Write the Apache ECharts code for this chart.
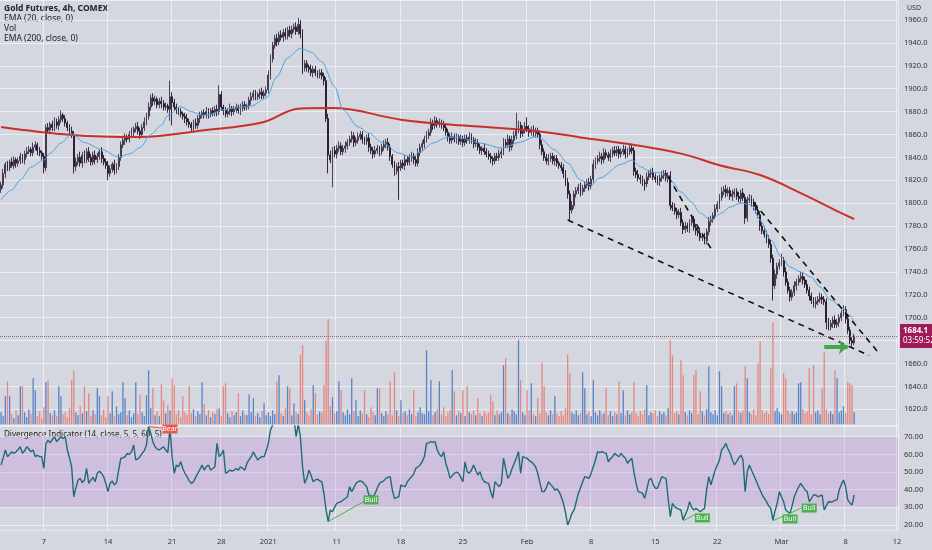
<!DOCTYPE html>
<html><head><meta charset="utf-8">
<script src="https://cdn.jsdelivr.net/npm/echarts@6/dist/echarts.min.js"></script>
<style>html,body{margin:0;padding:0;background:#d4d7df}#c{width:932px;height:550px}</style>
</head><body><div id="c"></div>
<script>
// ---- data ----
const closes = [
1816,1826,1834,1831,1836,1833,1838,1835,1837,1841,
1838,1843,1845,1847,1844,1849,1851,1846,1844,1841,
1831,1866,1864,1869,1866,1871,1868,1873,1877,1874,
1870,1866,1863,1860,1832,1836,1840,1835,1842,1838,
1845,1840,1836,1842,1838,1841,1845,1839,1836,1833,
1826,1830,1834,1829,1832,1840,1851,1855,1858,1856,
1860,1862,1865,1867,1863,1860,1866,1871,1876,1884,
1892,1889,1891,1886,1889,1887,1884,1885,1882,1893,
1888,1884,1882,1880,1878,1876,1874,1871,1869,1866,
1870,1868,1874,1877,1879,1877,1880,1878,1881,1879,
1882,1880,1895,1884,1881,1878,1880,1883,1880,1882,
1884,1881,1883,1886,1884,1885,1890,1893,1896,1893,
1895,1897,1894,1896,1899,1912,1926,1938,1944,1941,
1947,1945,1949,1946,1951,1948,1952,1954,1950,1956,
1948,1918,1922,1919,1917,1914,1917,1914,1912,1914,
1911,1907,1874,1842,1838,1846,1843,1848,1850,1845,
1848,1850,1853,1856,1859,1853,1855,1858,1860,1856,
1854,1857,1849,1846,1843,1846,1848,1845,1849,1851,
1853,1849,1841,1834,1828,1832,1831,1835,1833,1838,
1836,1840,1841,1838,1835,1844,1849,1852,1856,1859,
1862,1870,1868,1872,1869,1871,1869,1866,1862,1858,
1855,1858,1856,1858,1854,1856,1853,1857,1855,1858,
1855,1852,1853,1849,1846,1848,1845,1843,1841,1839,
1837,1841,1840,1843,1845,1853,1851,1856,1849,1855,
1859,1864,1868,1861,1864,1867,1865,1862,1864,1861,
1863,1860,1851,1845,1840,1837,1839,1841,1837,1839,
1835,1833,1831,1826,1818,1808,1794,1798,1808,1811,
1814,1810,1813,1816,1818,1815,1821,1834,1837,1839,
1841,1838,1844,1842,1840,1843,1846,1844,1847,1843,
1845,1847,1843,1845,1848,1846,1828,1825,1822,1821,
1818,1817,1823,1826,1827,1823,1821,1819,1822,1824,
1826,1822,1824,1798,1796,1793,1790,1792,1783,1777,
1780,1778,1783,1786,1779,1776,1774,1770,1771,1767,
1775,1784,1786,1789,1795,1799,1805,1810,1812,1809,
1811,1806,1808,1810,1806,1804,1809,1805,1787,1803,
1804,1801,1797,1794,1790,1780,1776,1773,1769,1764,
1752,1728,1738,1745,1748,1750,1740,1731,1724,1718,
1722,1728,1731,1734,1736,1733,1729,1724,1719,1715,
1712,1714,1716,1718,1716,1714,1696,1692,1695,1698,
1694,1696,1700,1704,1707,1699,1689,1680,1678,1684.1];

const opens = [
1812,1816,1826,1834,1831,1836,1833,1838,1835,1837,
1841,1838,1843,1845,1847,1844,1849,1851,1846,1844,
1841,1831,1866,1864,1869,1866,1871,1868,1873,1877,
1874,1870,1866,1863,1860,1832,1836,1840,1835,1842,
1838,1845,1840,1836,1842,1838,1841,1845,1839,1836,
1833,1826,1830,1834,1829,1832,1840,1851,1855,1858,
1856,1860,1862,1865,1867,1863,1860,1866,1871,1876,
1884,1892,1889,1891,1886,1889,1887,1884,1885,1882,
1893,1888,1884,1882,1880,1878,1876,1874,1871,1869,
1866,1870,1868,1874,1877,1879,1877,1880,1878,1881,
1879,1882,1880,1895,1884,1881,1878,1880,1883,1880,
1882,1884,1881,1883,1886,1884,1885,1890,1893,1896,
1893,1895,1897,1894,1896,1899,1912,1926,1938,1944,
1941,1947,1945,1949,1946,1951,1948,1952,1954,1950,
1956,1948,1918,1922,1919,1917,1914,1917,1914,1912,
1914,1911,1907,1874,1842,1838,1846,1843,1848,1850,
1845,1848,1850,1853,1856,1859,1853,1855,1858,1860,
1856,1854,1857,1849,1846,1843,1846,1848,1845,1849,
1851,1853,1849,1841,1834,1828,1832,1831,1835,1833,
1838,1836,1840,1841,1838,1835,1844,1849,1852,1856,
1859,1862,1870,1868,1872,1869,1871,1869,1866,1862,
1858,1855,1858,1856,1858,1854,1856,1853,1857,1855,
1858,1855,1852,1853,1849,1846,1848,1845,1843,1841,
1839,1837,1841,1840,1843,1845,1853,1851,1856,1849,
1855,1859,1864,1868,1861,1864,1867,1865,1862,1864,
1861,1863,1860,1851,1845,1840,1837,1839,1841,1837,
1839,1835,1833,1831,1826,1818,1808,1794,1798,1808,
1811,1814,1810,1813,1816,1818,1815,1821,1834,1837,
1839,1841,1838,1844,1842,1840,1843,1846,1844,1847,
1843,1845,1847,1843,1845,1848,1846,1828,1825,1822,
1821,1818,1817,1823,1826,1827,1823,1821,1819,1822,
1824,1826,1822,1824,1798,1796,1793,1790,1792,1783,
1777,1780,1778,1783,1786,1779,1776,1774,1770,1771,
1767,1775,1784,1786,1789,1795,1799,1805,1810,1812,
1809,1811,1806,1808,1810,1806,1804,1809,1805,1787,
1803,1804,1801,1797,1794,1790,1780,1776,1773,1769,
1764,1752,1728,1738,1745,1748,1750,1740,1731,1724,
1718,1722,1728,1731,1734,1736,1733,1729,1724,1719,
1715,1712,1714,1716,1718,1716,1714,1696,1692,1695,
1698,1694,1696,1700,1704,1707,1699,1689,1680,1678];

const upperWick = [
3,4,2,3,2,4,3,2,3,3, 2,3,4,3,2,4,3,2,3,2, 3,3,4,2,3,4,3,3,4,2, 3,2,3,4,3,4,3,5,3,4,
3,4,3,3,4,3,2,4,3,3, 4,3,2,4,3,3,3,4,3,2, 3,4,2,3,4,3,3,4,3,4, 3,4,3,2,3,4,3,3,2,14,
4,3,3,2,3,2,3,4,3,2, 3,4,3,3,2,3,4,3,2,3, 3,4,8,3,2,3,3,4,2,3, 3,2,4,3,3,2,3,4,3,3,
2,3,4,3,3,4,4,3,3,4, 3,4,3,4,3,4,3,3,4,6, 4,4,3,3,2,4,3,3,2,3, 3,3,3,4,4,3,4,3,4,3,
3,4,3,3,4,3,3,4,3,3, 2,3,4,3,3,4,3,2,3,4, 3,4,3,2,3,3,4,3,3,4, 3,3,4,3,3,4,3,3,3,4,
3,4,3,4,3,3,2,3,4,3, 3,4,3,3,2,4,3,3,3,4, 3,3,4,3,3,2,4,3,3,3, 2,3,3,4,3,4,3,4,3,4,
4,15,4,3,4,4,8,3,3,4, 3,3,3,4,3,3,4,3,3,3, 3,2,3,3,3,4,3,4,3,3, 3,4,3,3,3,4,3,4,3,3,
4,3,4,3,3,4,3,4,3,3, 3,4,3,3,4,3,3,3,4,3, 3,3,4,3,3,4,3,3,3,4, 3,3,3,4,3,4,3,3,4,3,
4,3,3,4,3,3,3,4,3,3, 3,4,3,3,4,3,3,4,3,4, 3,3,4,3,3,4,3,4,3,3, 4,3,3,4,3,3,3,4,3,3,
4,3,4,3,3,6,3,4,3,3, 3,4,3,3,4,3,3,4,3,3, 3,4,3,4,3,3,3,4,3,3, 4,3,3,3,4,3,4,3,3,2];

const lowerWick = [
3,3,4,3,3,2,3,4,3,3, 3,4,3,2,3,3,3,4,3,3, 5,3,3,4,3,3,3,4,3,3, 3,3,4,3,6,4,3,3,4,3,
3,4,3,3,4,3,3,4,3,3, 6,3,3,4,3,3,3,3,4,3, 3,3,4,3,3,4,3,3,3,3, 3,4,3,3,3,4,3,3,3,10,
20,3,4,3,3,3,4,3,3,4, 3,3,3,4,3,3,3,4,3,3, 3,4,3,3,4,3,3,3,4,3, 3,3,4,3,3,3,3,4,3,3,
3,4,3,3,3,3,4,3,3,4, 3,3,4,3,3,3,4,3,3,3, 4,5,3,4,3,3,4,3,3,3, 3,4,3,16,3,24,3,4,3,3,
3,4,3,3,3,4,3,3,3,4, 3,3,4,3,4,3,3,4,3,3, 3,3,4,3,4,3,28,3,3,4, 3,3,4,4,3,3,3,3,4,3,
3,3,4,3,3,3,4,3,3,4, 3,3,3,4,3,3,4,3,3,3, 3,4,3,3,3,4,3,3,3,4, 4,3,3,3,4,3,3,3,4,3,
3,3,3,4,3,3,3,4,3,3, 3,3,4,3,3,3,4,3,3,4, 3,3,3,4,3,4,9,3,3,3, 3,4,3,3,3,4,3,3,4,3,
3,4,3,3,3,4,3,3,3,4, 3,3,4,3,3,3,4,3,3,4, 3,6,3,3,4,3,3,3,4,3, 3,3,4,4,3,3,4,3,3,4,
3,3,4,3,3,4,3,3,3,3, 3,3,4,3,3,3,4,3,3,4, 3,3,4,3,3,3,4,3,5,3, 3,4,3,3,3,4,3,3,4,3,
4,13,3,4,3,3,4,3,3,4, 3,3,4,3,3,4,3,3,4,3, 3,4,3,3,4,3,6,3,3,4, 3,3,4,3,3,4,3,3,3,2];

const volumes = [
12,8,28,43,28,10,6,14,9,38, 38,12,7,15,10,46,34,8,13,6, 17,42,44,11,9,14,8,38,28,10, 12,7,16,44,53,12,9,18,11,38,
13,31,8,14,10,36,28,9,15,7, 28,11,33,8,18,10,12,42,26,9, 14,7,11,42,10,29,12,8,29,54, 16,36,9,13,8,40,24,11,19,14,
46,39,10,14,7,28,12,9,38,11, 15,8,13,10,42,20,9,14,7,12, 10,15,16,8,38,41,11,7,13,9, 12,31,8,14,10,9,30,12,26,8,
11,7,13,21,9,12,8,14,10,43, 49,11,8,16,38,36,9,21,12,10, 69,79,24,12,9,15,39,31,10,13, 12,39,84,105,18,27,11,13,43,34,
12,9,15,10,46,13,24,8,14,11, 34,10,7,17,12,9,36,36,11,8, 13,10,43,9,52,14,8,24,11,13, 9,15,10,34,8,12,17,11,10,74,
13,44,9,12,15,43,10,17,8,12, 14,54,33,9,13,11,34,8,38,12, 10,14,9,26,11,8,13,10,12,29, 23,9,14,10,12,59,66,11,9,15,
13,10,84,44,12,9,34,14,41,10, 8,26,11,62,38,12,9,14,10,28, 11,8,13,9,16,70,51,12,10,14, 9,11,52,36,10,13,8,44,12,9,
14,10,11,36,9,13,8,12,10,43, 11,34,9,14,10,12,42,11,8,13, 10,15,39,9,12,11,14,8,13,10, 12,9,16,84,69,11,13,10,64,49,
12,9,14,11,49,54,10,33,13,9, 15,58,12,10,14,9,53,38,11,13, 10,12,9,38,41,13,11,14,58,46, 12,10,15,9,61,83,14,11,13,10,
56,102,13,16,12,10,51,46,14,11, 13,10,12,41,42,15,11,13,56,10, 59,12,14,10,36,72,15,11,13,10, 54,46,12,14,18,11,42,41,39,12];

const rsiValues = [
54,58,62.5,58.7,60,61.5,60.5,61.5,62.8,64.3, 60.6,62,64.3,63,61.5,62.5,58.7,59.5,58.7,58.7,
52.1,66,68.1,66.5,68.5,70,67.2,68.5,70,69, 70,62.5,58,53,36,41,45.5,46.4,44,45.5,
52.1,43.6,45.5,47,44.5,49.3,50.5,49.3,47.3,43.5, 38.9,43.6,45,42.7,44,51.1,57.8,58,58.7,60.6,
60,61.5,65.3,56.8,57.5,58.7,60.6,62,65.3,75.7, 72,67.2,64.3,63,62.5,63.5,64.3,62.5,61,75,
58.7,49.3,54,53,55.8,52,49.3,47.3,45,43.6, 44.5,47,49.3,51.5,54,51.1,53,54,51.1,52,
53,66.2,58.7,60,62.5,49.3,50,51.1,50.5,51.1, 52,51.1,53,52,51.1,55,57,58.7,61.5,59,
56.8,58,58.7,58.7,62,66.2,73.8,76.5,79,81, 80,82,80.5,81.5,80,83,81,80,70,77,
70,53,43.6,46.4,51.1,48,44.5,45.5,46,45, 44.5,38,28.5,21.9,28.5,27.5,30,32.3,32.8,33.2,
34.2,35,36,41.7,38.9,41,43.6,44.5,45,44.5, 43,41.7,37,36.5,36,38,41,43.6,44.5,45,
46.4,47,47.3,39.8,35.1,35.5,36,42.7,42,41.7, 44.5,46,47.3,49,52.1,53,54,56,58.7,66.2,
66.5,67.2,66.8,67.2,62.5,60,58.7,61.5,55,51.1, 46.4,48,49.3,50,49.3,47,44.5,55.8,50.2,49.3,
51,54,51,48.3,50.2,46.4,44.5,44,43.6,39, 35.1,44.5,43,41.7,43.6,57.8,52,46.4,48.3,52,
55,58,61.5,49.3,58.7,58.2,57.8,56.5,55.8,54.5, 53,49.3,44,38.9,38.9,41,44.5,43,41.7,39.8,
40.5,38.9,36,32.3,27,20,23,26.6,28.5,33, 38,41,44.5,47.3,47,46.4,49.3,53,56.8,61.5,
61,61.5,61,60.6,55.8,57.5,58.7,60.6,59.5,58.7, 60.6,59,57.8,55,56.5,57.8,50,43.6,38.9,38.5,
38,35.1,40,45.5,46.4,43,40.8,40.8,44,47.3, 46.8,46.4,35,24.7,32.3,30.4,29.5,29,28.5,22.8,
26,28.5,33.2,30,28.5,29.4,28.5,27.5,28.5,29.4, 40,47.3,42.7,47,51.1,54,56.8,62.5,64,66.2,
63,60.6,57,54,55.8,58,59.6,56.8,38.9,50, 54,51,48.3,45.5,42.5,39.8,37,35.1,33.2,31,
29.4,22.8,28,32.3,38.9,36,33.2,28.5,27.5,26.6, 31,36,39,41.5,43.6,41.7,40,38.9,33.2,35,
37,37,36,36.5,37,28.5,31,33.2,33,33.2, 34,34.2,39.8,43,45.5,41.7,34.2,32.5,31.3,37];

const ema20Bars = [0,5,9,14,20,23,28,33,39,47,55,60,65,70,75,78,84,89,94,98,103,109,117,124,129,134,140,145,150,156,160,167,172,178,186,192,196,202,209,215,224,234,243,249,252,259,265,271,276,280,290,295,299,304,309,313,318,323,327,332,337,341,346,351,355,360,365,369,374,379,383,388,393,397,399];
const ema20Vals = [1802.8,1811.5,1820.3,1831.6,1837.7,1843.8,1852.6,1860.5,1853,1847,1840.3,1843,1848.6,1860,1868,1876.6,1884.4,1880,1877,1877.5,1881.4,1883.1,1885,1891.6,1910.5,1927,1935.3,1932,1923.6,1902,1881.4,1866.6,1861.3,1853.4,1843.8,1840.3,1844.7,1852.6,1857.8,1857,1852.6,1848.2,1853.4,1857.8,1857,1846.5,1835.2,1820.3,1815.9,1822,1834,1837.7,1832,1827.2,1826.4,1820.3,1809.8,1801,1791.4,1785.3,1791.4,1796.7,1800.2,1798.4,1785.3,1767.9,1753,1744.3,1740,1735.5,1726.8,1715.5,1709.3,1702.3,1696.2];
const ema200Bars = [0,33,65,94,122,140,155,187,215,248,271,295,318,337,355,374,393,399];
const ema200Vals = [1866.5,1859.6,1857.8,1863.5,1870.5,1882.8,1883.2,1873,1868,1863.6,1857.5,1851.2,1843.3,1832.8,1824.6,1808.9,1791.4,1786.2];

const tickLabels = {'2020-12-07':'7','2020-12-14':'14','2020-12-21':'21','2020-12-28':'28','2021-01-03':'2021','2021-01-11':'11','2021-01-18':'18','2021-01-25':'25','2021-02-01':'Feb','2021-02-08':'8','2021-02-15':'15','2021-02-22':'22','2021-03-01':'Mar','2021-03-08':'8','2021-03-12':'12'};
const holidays = ['2020-12-25','2021-01-01'];
const shortSessions = ['2020-12-24','2021-01-18','2021-02-15'];

// trend lines drawn on the price pane: [bar, price, bar, price]
const trendLines = [[265,1785.3,406,1667.1],[352,1800.6,411,1668.1],[312,1822.9,333,1757.4]];
const arrowLine = [385,1674.4,396,1674.4];
const lastPrice = 1684.1, countdown = '03:59:52';

// divergence annotations on the RSI pane
const divKinds  = ['Bear','Bull','Bull','Bull','Bull'];
const divFrom   = [[69,75.7],[153,21.9],[319,22.4],[361,22.4],[369,26.6]];
const divTo     = [[79,74.5],[171,34.2],[325,26.2],[369,26.6],[377,31.3]];
const divLabel  = [[79,74.4],[173,34.2],[328,24],[369,23.4],[378,29.6]];

// ---- categories (4h bars of COMEX sessions) ----
const cats = [], catDay = [];
const fmt = t => new Date(t).toISOString().slice(0,10);
const hours = ['18','22','02','06','10','14'];
for (let t = Date.UTC(2020,11,2); t <= Date.UTC(2021,2,12); t += 86400000) {
  const wd = new Date(t).getUTCDay();
  if (wd === 0 || wd === 6) continue;
  const s = fmt(t);
  if (holidays.includes(s)) continue;
  const prev = fmt(t - 86400000);
  const n = shortSessions.includes(s) ? 5 : 6;
  for (let b = 0; b < n; b++) {
    const day = b < 2 ? prev : s;
    cats.push(day + ' ' + hours[b] + ':00');
    catDay.push(day);
  }
}
const N = 420;
cats.length = N; catDay.length = N;
const labelAt = {};
Object.keys(tickLabels).forEach(k => { const i = catDay.indexOf(k); if (i >= 0) labelAt[i] = tickLabels[k]; });
const isTick = (i) => labelAt[i] !== undefined;

const candleData = closes.map((c, i) => {
  const o = opens[i];
  return [o, c, Math.min(o, c) - lowerWick[i], Math.max(o, c) + upperWick[i]];
});
const volData = volumes.map((v, i) => ({
  value: v,
  itemStyle: { color: closes[i] >= opens[i] ? '#5a82c6' : '#e3877f' }
}));

const FONT = '"Noto Sans", "DejaVu Sans", sans-serif';
const gridL = 0, gridR = 34;

const chart = echarts.init(document.getElementById('c'), null, {renderer: 'canvas'});
chart.setOption({
  backgroundColor: '#d4d7df',
  animation: false,
  textStyle: { fontFamily: FONT },
  grid: [
    { left: gridL, right: gridR, top: 0, height: 425 },
    { left: gridL, right: gridR, top: 315.3, height: 109 },
    { left: gridL, right: gridR, top: 426, height: 104 }
  ],
  xAxis: [
    { type: 'category', gridIndex: 0, data: cats, boundaryGap: true,
      axisLine: { show: false }, axisTick: { show: false, alignWithLabel: true }, axisLabel: { show: false },
      splitLine: { show: true, interval: (i) => isTick(i), lineStyle: { color: 'rgba(255,255,255,0.55)', width: 1 } } },
    { type: 'category', gridIndex: 1, data: cats, boundaryGap: true, show: false },
    { type: 'category', gridIndex: 2, data: cats, boundaryGap: true,
      axisLine: { show: true, lineStyle: { color: '#e6e8ed' } },
      axisTick: { show: false, alignWithLabel: true },
      axisLabel: { show: true, interval: (i) => isTick(i), formatter: (v, i) => labelAt[i] || '',
        color: '#333', fontSize: 7.5, margin: 8, fontFamily: FONT },
      splitLine: { show: true, interval: (i) => isTick(i), lineStyle: { color: 'rgba(255,255,255,0.55)', width: 1 } } }
  ],
  yAxis: [
    { type: 'value', gridIndex: 0, position: 'right', min: 1606.3, max: 1977.5, splitNumber: 18, scale: true,
      axisLine: { show: true, lineStyle: { color: '#eceef2' } }, axisTick: { show: false },
      axisLabel: { formatter: v => v.toFixed(1), color: '#333', fontSize: 7.5, margin: 6, showMinLabel: false, showMaxLabel: false, fontFamily: FONT },
      splitLine: { show: true, lineStyle: { color: 'rgba(255,255,255,0.55)', width: 1 } } },
    { type: 'value', gridIndex: 1, min: 0, max: 109, show: false, splitLine: { show: false } },
    { type: 'value', gridIndex: 2, position: 'right', min: 17.17, max: 76.06, splitNumber: 6, scale: true,
      axisLine: { show: true, lineStyle: { color: '#eceef2' } }, axisTick: { show: false },
      axisLabel: { formatter: v => v.toFixed(2), color: '#333', fontSize: 7.5, margin: 6, showMinLabel: false, showMaxLabel: false, fontFamily: FONT },
      splitLine: { show: true, lineStyle: { color: 'rgba(255,255,255,0.55)', width: 1 } } }
  ],
  series: [
    { name: 'Vol', type: 'bar', xAxisIndex: 1, yAxisIndex: 1, data: volData, barWidth: 1.3, silent: true },
    { name: 'Gold Futures', type: 'candlestick', xAxisIndex: 0, yAxisIndex: 0, data: candleData, barWidth: 1.4,
      itemStyle: { color: '#3f3249', color0: '#24162b', borderColor: '#3f3249', borderColor0: '#24162b', borderWidth: 0.9 },
      markLine: { silent: true, symbol: 'none', animation: false,
        data: [{ yAxis: lastPrice,
          lineStyle: { color: '#8a6a80', type: 'dotted', width: 1 },
          label: { show: true, position: 'end', distance: 2, formatter: '{a|' + lastPrice.toFixed(1) + '}\n{b|' + countdown + '}',
            backgroundColor: '#a01a5a', padding: [2, 3, 2, 3],
            rich: { a: { color: '#fff', fontSize: 8, fontWeight: 'bold', lineHeight: 10, fontFamily: FONT },
                    b: { color: '#fff', fontSize: 8, lineHeight: 10, fontFamily: FONT } } } }] } },
    { name: 'EMA200', type: 'line', xAxisIndex: 0, yAxisIndex: 0, data: ema200Bars.map((b, i) => [b, ema200Vals[i]]),
      smooth: 0.4, showSymbol: false, lineStyle: { color: '#c8302c', width: 2 }, silent: true },
    { name: 'EMA20', type: 'line', xAxisIndex: 0, yAxisIndex: 0, data: ema20Bars.map((b, i) => [b, ema20Vals[i]]),
      smooth: 0.3, smoothMonotone: 'x', showSymbol: false, lineStyle: { color: '#4da3e0', width: 1 }, silent: true,
      markLine: { silent: true, symbol: 'none', animation: false,
        data: trendLines.map(t => [
          { coord: [t[0], t[1]], lineStyle: { color: '#111', type: [6, 5], width: 1.6 } },
          { coord: [t[2], t[3]] }
        ]).concat([[
          { coord: [arrowLine[0], arrowLine[1]], symbol: 'none', lineStyle: { color: '#43a648', type: 'solid', width: 4 } },
          { coord: [arrowLine[2], arrowLine[3]], symbol: 'arrow', symbolSize: [11, 9] }
        ]]),
        label: { show: false } } },
    { name: 'RSI', type: 'line', xAxisIndex: 2, yAxisIndex: 2, data: rsiValues, showSymbol: false,
      lineStyle: { color: '#1d6c72', width: 1.4 }, silent: true,
      markArea: { silent: true, itemStyle: { color: 'rgba(190,120,225,0.25)' }, data: [[{ yAxis: 30 }, { yAxis: 70 }]] },
      markLine: { silent: true, symbol: 'none', animation: false, label: { show: false },
        data: divFrom.map((f, i) => [
          { coord: f, lineStyle: { color: divKinds[i] === 'Bear' ? '#ef5350' : '#4caf50', type: 'solid', width: 1 } },
          { coord: divTo[i] }
        ]) },
      markPoint: { silent: true, animation: false,
        data: divLabel.map((p, i) => ({
          coord: p, symbol: 'rect', symbolSize: [15, 9],
          itemStyle: { color: divKinds[i] === 'Bear' ? '#ef5350' : '#4caf50' },
          label: { show: true, position: 'inside', formatter: divKinds[i], color: '#fff', fontSize: 7, fontFamily: FONT }
        })) } }
  ],
  graphic: [
    { type: 'text', x: 4, y: 9, style: { text: 'Gold Futures, 4h, COMEX', fill: '#222', font: 'bold 8.5px ' + FONT, verticalAlign: 'middle' } },
    { type: 'text', x: 4, y: 19, style: { text: 'EMA (20, close, 0)', fill: '#222', font: '8.5px ' + FONT, verticalAlign: 'middle' } },
    { type: 'text', x: 4, y: 28.7, style: { text: 'Vol', fill: '#222', font: '8.5px ' + FONT, verticalAlign: 'middle' } },
    { type: 'text', x: 4, y: 38.3, style: { text: 'EMA (200, close, 0)', fill: '#222', font: '8.5px ' + FONT, verticalAlign: 'middle' } },
    { type: 'text', x: 4, y: 435, style: { text: 'Divergence Indicator (14, close, 5, 5, 60, 5)', fill: '#222', font: '8px ' + FONT, verticalAlign: 'middle' } },
    { type: 'text', x: 914, y: 8, style: { text: 'USD', fill: '#333', font: '7px ' + FONT, align: 'center', verticalAlign: 'middle' } }
  ]
});
</script></body></html>
